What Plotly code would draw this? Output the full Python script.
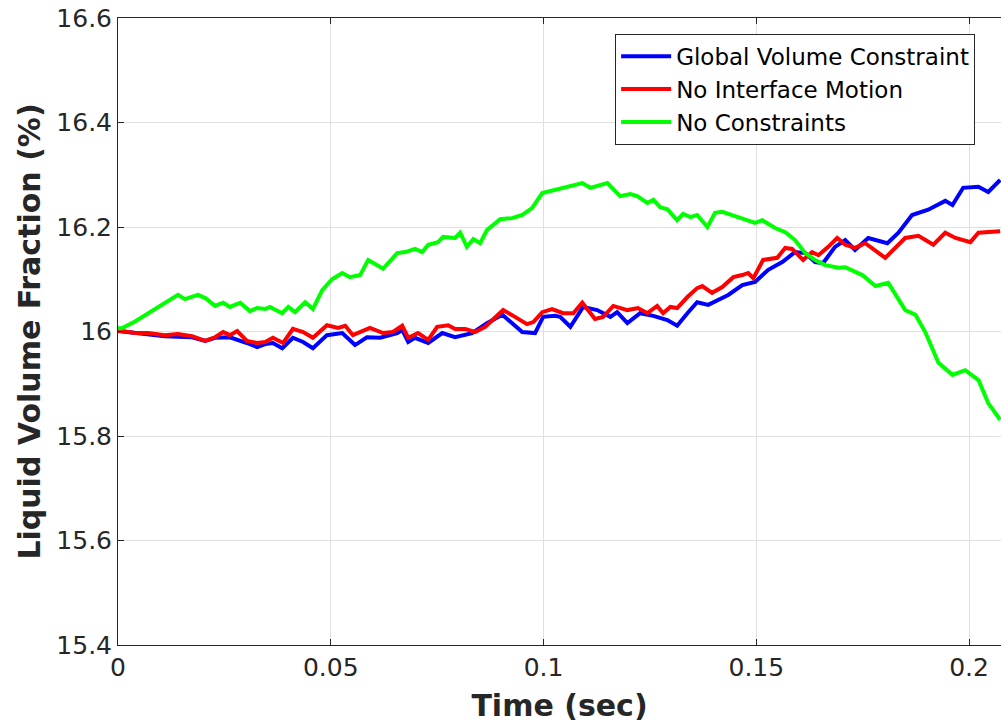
import plotly.graph_objects as go

# ---- data ----
gvc_t = [0, 0.0040, 0.0110, 0.0174, 0.0205, 0.0228, 0.0263, 0.0303, 0.0327, 0.0346, 0.0364, 0.0386,
         0.0411, 0.0435, 0.0458, 0.0491, 0.0527, 0.0557, 0.0585, 0.0616, 0.0656, 0.0668, 0.0682, 0.0698,
         0.0729, 0.0762, 0.0792, 0.0832, 0.0867, 0.0903, 0.0950, 0.0980, 0.0999, 0.1027, 0.1039, 0.1063,
         0.1093, 0.1126, 0.1157, 0.1173, 0.1197, 0.1227, 0.1258, 0.1291, 0.1314, 0.1338, 0.1361, 0.1387,
         0.1410, 0.1434, 0.1467, 0.1497, 0.1528, 0.1561, 0.1591, 0.1615, 0.1638, 0.1657, 0.1685, 0.1709,
         0.1732, 0.1763, 0.1808, 0.1834, 0.1866, 0.1904, 0.1944, 0.1961, 0.1986, 0.2022, 0.2045, 0.2073]
gvc_v = [16.001, 15.997, 15.991, 15.989, 15.982, 15.988, 15.989, 15.978, 15.970, 15.976, 15.978, 15.968,
         15.988, 15.980, 15.968, 15.993, 15.997, 15.974, 15.989, 15.988, 15.997, 16.003, 15.980, 15.988,
         15.978, 15.997, 15.989, 15.997, 16.016, 16.032, 15.999, 15.997, 16.028, 16.030, 16.028, 16.009,
         16.047, 16.041, 16.028, 16.037, 16.016, 16.035, 16.030, 16.022, 16.011, 16.035, 16.056, 16.051,
         16.060, 16.070, 16.089, 16.095, 16.118, 16.133, 16.152, 16.150, 16.133, 16.131, 16.162, 16.175,
         16.156, 16.179, 16.169, 16.189, 16.223, 16.233, 16.250, 16.242, 16.275, 16.277, 16.267, 16.290]

nim_t = [0, 0.0009, 0.0040, 0.0071, 0.0110, 0.0141, 0.0174, 0.0205, 0.0228, 0.0247, 0.0263, 0.0280,
         0.0303, 0.0327, 0.0346, 0.0364, 0.0388, 0.0411, 0.0435, 0.0458, 0.0491, 0.0517, 0.0534, 0.0552,
         0.0592, 0.0623, 0.0646, 0.0668, 0.0682, 0.0705, 0.0729, 0.0750, 0.0776, 0.0792, 0.0816, 0.0839,
         0.0863, 0.0905, 0.0933, 0.0961, 0.0976, 0.0997, 0.1020, 0.1046, 0.1070, 0.1091, 0.1121, 0.1140,
         0.1164, 0.1197, 0.1222, 0.1244, 0.1267, 0.1281, 0.1298, 0.1314, 0.1338, 0.1361, 0.1373, 0.1396,
         0.1420, 0.1446, 0.1467, 0.1481, 0.1493, 0.1516, 0.1549, 0.1568, 0.1584, 0.1610, 0.1631, 0.1646,
         0.1669, 0.1690, 0.1709, 0.1732, 0.1756, 0.1803, 0.1850, 0.1881, 0.1916, 0.1944, 0.1968, 0.2003,
         0.2022, 0.2073]
nim_v = [16.001, 16.001, 15.997, 15.997, 15.993, 15.995, 15.991, 15.982, 15.989, 15.999, 15.993, 16.001,
         15.982, 15.978, 15.980, 15.988, 15.978, 16.005, 15.999, 15.988, 16.012, 16.007, 16.011, 15.993,
         16.007, 15.997, 15.999, 16.011, 15.988, 15.997, 15.984, 16.009, 16.012, 16.005, 16.005, 15.999,
         16.009, 16.041, 16.028, 16.014, 16.018, 16.037, 16.043, 16.035, 16.035, 16.055, 16.024, 16.028,
         16.049, 16.041, 16.045, 16.035, 16.049, 16.035, 16.047, 16.045, 16.066, 16.083, 16.087, 16.074,
         16.085, 16.104, 16.108, 16.112, 16.102, 16.137, 16.141, 16.160, 16.158, 16.137, 16.152, 16.146,
         16.162, 16.179, 16.166, 16.160, 16.169, 16.141, 16.179, 16.183, 16.166, 16.189, 16.179, 16.171,
         16.189, 16.192]

nc_t = [0, 0.0009, 0.0040, 0.0071, 0.0110, 0.0141, 0.0157, 0.0188, 0.0205, 0.0228, 0.0247, 0.0263,
        0.0287, 0.0310, 0.0327, 0.0346, 0.0357, 0.0386, 0.0400, 0.0416, 0.0440, 0.0458, 0.0480, 0.0503,
        0.0527, 0.0545, 0.0569, 0.0588, 0.0623, 0.0656, 0.0675, 0.0698, 0.0715, 0.0729, 0.0752, 0.0764,
        0.0792, 0.0804, 0.0820, 0.0835, 0.0851, 0.0867, 0.0898, 0.0926, 0.0950, 0.0973, 0.0997, 0.1027,
        0.1046, 0.1091, 0.1110, 0.1150, 0.1180, 0.1204, 0.1220, 0.1244, 0.1258, 0.1274, 0.1291, 0.1314,
        0.1328, 0.1345, 0.1361, 0.1385, 0.1403, 0.1420, 0.1457, 0.1497, 0.1514, 0.1544, 0.1568, 0.1591,
        0.1615, 0.1638, 0.1662, 0.1693, 0.1709, 0.1749, 0.1780, 0.1810, 0.1850, 0.1874, 0.1897, 0.1928,
        0.1961, 0.1991, 0.2022, 0.2045, 0.2073]
nc_v = [16.006, 16.006, 16.019, 16.035, 16.055, 16.070, 16.062, 16.070, 16.064, 16.049, 16.055, 16.047,
        16.055, 16.039, 16.045, 16.043, 16.047, 16.035, 16.047, 16.037, 16.056, 16.043, 16.079, 16.100,
        16.112, 16.104, 16.108, 16.137, 16.120, 16.150, 16.152, 16.158, 16.152, 16.166, 16.171, 16.181,
        16.179, 16.189, 16.162, 16.177, 16.169, 16.194, 16.215, 16.217, 16.223, 16.236, 16.265, 16.271,
        16.275, 16.284, 16.275, 16.284, 16.259, 16.263, 16.259, 16.246, 16.252, 16.238, 16.234, 16.213,
        16.225, 16.219, 16.223, 16.200, 16.227, 16.229, 16.219, 16.208, 16.213, 16.198, 16.190, 16.175,
        16.150, 16.137, 16.127, 16.122, 16.123, 16.108, 16.087, 16.093, 16.041, 16.032, 15.999, 15.940,
        15.917, 15.926, 15.907, 15.863, 15.831]

series_names = ["Global Volume Constraint", "No Interface Motion", "No Constraints"]
series_colors = ["#0000ff", "#ff0000", "#00ff00"]

x_ticks = [0, 0.05, 0.1, 0.15, 0.2]
x_tick_labels = ["0", "0.05", "0.1", "0.15", "0.2"]
y_ticks = [15.4, 15.6, 15.8, 16.0, 16.2, 16.4, 16.6]
y_tick_labels = ["15.4", "15.6", "15.8", "16", "16.2", "16.4", "16.6"]

fig = go.Figure()
for t, v, name, col in zip([gvc_t, nim_t, nc_t], [gvc_v, nim_v, nc_v], series_names, series_colors):
    fig.add_trace(go.Scatter(x=t, y=v, mode="lines", name=name,
                             line=dict(color=col, width=4)))

axis_col = "#262626"
font_family = "DejaVu Sans"

fig.update_layout(
    width=1001, height=723,
    margin=dict(l=118, r=0, t=18, b=78),
    paper_bgcolor="white", plot_bgcolor="white",
    font=dict(family=font_family, color=axis_col, size=26),
    showlegend=True,
    legend=dict(x=0.563, y=0.975, xanchor="left", yanchor="top",
                bgcolor="white", bordercolor=axis_col, borderwidth=1,
                font=dict(size=23, color="#000000"), tracegroupgap=0,
                itemwidth=50),
)
fig.update_xaxes(
    range=[0, 0.2075], tickvals=x_ticks, ticktext=x_tick_labels,
    showgrid=True, gridcolor="#e0e0e0", gridwidth=1,
    showline=True, linecolor=axis_col, linewidth=1, mirror="ticks",
    ticks="inside", ticklen=6, tickcolor=axis_col,
    zeroline=False,
    tickfont=dict(size=25, color=axis_col),
    title=dict(text="<b>Time (sec)</b>", font=dict(size=30, color=axis_col), standoff=14),
)
fig.update_yaxes(
    range=[15.4, 16.6], tickvals=y_ticks, ticktext=y_tick_labels,
    showgrid=True, gridcolor="#e0e0e0", gridwidth=1,
    showline=True, linecolor=axis_col, linewidth=1, mirror=False,
    ticks="inside", ticklen=6, tickcolor=axis_col,
    zeroline=False,
    tickfont=dict(size=25, color=axis_col),
    title=dict(text="<b>Liquid Volume Fraction (%)</b>", font=dict(size=30, color=axis_col), standoff=6),
)

fig.write_html("out.html")
